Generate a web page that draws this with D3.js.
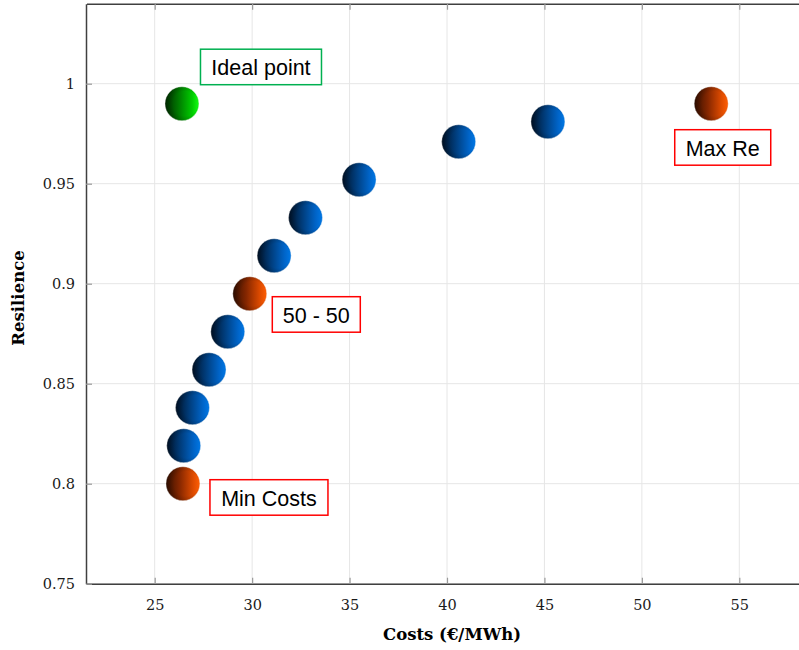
<!DOCTYPE html>
<html>
<head>
<meta charset="utf-8">
<script src="https://cdn.jsdelivr.net/npm/d3@7"></script>
<style>
  body { margin: 0; background: #fff; }
</style>
</head>
<body>
<script>
// data
var costs      = [26.4, 26.45, 26.49, 26.94, 27.79, 28.75, 29.88, 31.13, 32.74, 35.49, 40.6, 45.18, 53.56];
var resilience = [0.990, 0.800, 0.819, 0.838, 0.857, 0.876, 0.895, 0.914, 0.933, 0.952, 0.971, 0.981, 0.990];
var kinds      = ["ideal", "pick", "front", "front", "front", "front", "pick", "front", "front", "front", "front", "front", "pick"];
var xTicks = [25, 30, 35, 40, 45, 50, 55];
var yTicks = [0.75, 0.8, 0.85, 0.9, 0.95, 1];
var labelText  = ["Ideal point", "Min Costs", "50 - 50", "Max Re"];
var labelPoint = [0, 1, 6, 12];

// layout for the annotation boxes (pixel offsets from the point)
var labelLayout = [
  {dx: 79, dy: -36.5, w: 121, stroke: "#00b050"},
  {dx: 86, dy: 14, w: 118, stroke: "#ff0000"},
  {dx: 66.5, dy: 21, w: 88, stroke: "#ff0000"},
  {dx: 11.5, dy: 44, w: 96, stroke: "#ff0000"}
];

function drawChart() {
  var W = 799, H = 650;
  var plotLeft = 86, plotTop = 3.7, plotBottom = 583.7;

  var points = costs.map(function (c, i) { return {x: c, y: resilience[i], kind: kinds[i]}; });

  var x = d3.scaleLinear().domain([21.5, 58.5]).range([plotLeft + 0.5, 807.5]);
  var y = d3.scaleLinear().domain([0.75, 1.04]).range([plotBottom, plotTop]);

  var svg = d3.select("body").append("svg")
    .attr("width", W)
    .attr("height", H);

  var defs = svg.append("defs");
  var shades = {
    front: ["#00132a", "#003c7a", "#0064c8", "#0078e6"],
    pick:  ["#381000", "#862700", "#de4b00", "#ff5f05"],
    ideal: ["#003000", "#007a00", "#00cc00", "#12ff12"]
  };
  Object.keys(shades).forEach(function (k) {
    var g = defs.append("linearGradient").attr("id", "ball-" + k)
      .attr("x1", "0%").attr("x2", "100%").attr("y1", "0%").attr("y2", "0%");
    [0, 0.4, 0.8, 1].forEach(function (o, i) {
      g.append("stop").attr("offset", o).attr("stop-color", shades[k][i]);
    });
  });
  var rg = defs.append("radialGradient").attr("id", "shade")
    .attr("cx", "0.6").attr("cy", "0.5").attr("r", "0.6");
  rg.append("stop").attr("offset", 0.6).attr("stop-color", "#000").attr("stop-opacity", 0);
  rg.append("stop").attr("offset", 1).attr("stop-color", "#000").attr("stop-opacity", 0.25);

  // grid
  svg.append("g").selectAll("line").data(xTicks).enter().append("line")
    .attr("x1", function (d) { return x(d); }).attr("x2", function (d) { return x(d); })
    .attr("y1", plotTop).attr("y2", plotBottom)
    .attr("stroke", "#e6e6e6").attr("stroke-width", 1);
  svg.append("g").selectAll("line").data(yTicks).enter().append("line")
    .attr("x1", plotLeft).attr("x2", W)
    .attr("y1", function (d) { return y(d); }).attr("y2", function (d) { return y(d); })
    .attr("stroke", "#e6e6e6").attr("stroke-width", 1);

  // axes
  var xAxis = svg.append("g").attr("transform", "translate(0," + plotBottom + ")")
    .call(d3.axisBottom(x).tickValues(xTicks).tickSizeInner(-6).tickSizeOuter(0).tickPadding(14));
  var xTop = svg.append("g").attr("transform", "translate(0," + plotTop + ")")
    .call(d3.axisTop(x).tickValues(xTicks).tickSizeInner(-6).tickSizeOuter(0).tickFormat(""));
  var yAxis = svg.append("g").attr("transform", "translate(" + plotLeft + ",0)")
    .call(d3.axisLeft(y).tickValues(yTicks).tickSizeInner(-6).tickSizeOuter(0).tickPadding(10)
      .tickFormat(function (d) { return String(+d.toFixed(2)); }));

  [xAxis, xTop, yAxis].forEach(function (a) {
    a.select(".domain").attr("stroke", "#404040").attr("stroke-width", 1.5);
    a.selectAll(".tick line").attr("stroke", "#9a9a9a").attr("stroke-width", 1.2);
    a.selectAll(".tick text")
      .attr("font-family", "'DejaVu Serif', serif")
      .attr("font-size", "14.5px")
      .attr("fill", "#1a1a1a");
  });
  xAxis.selectAll(".tick text").attr("dy", "0.85em");
  yAxis.selectAll(".tick text").attr("dx", "-1");

  // titles
  svg.append("text")
    .attr("x", 452).attr("y", 640)
    .attr("text-anchor", "middle")
    .attr("font-family", "'DejaVu Serif', serif")
    .attr("font-weight", "bold")
    .attr("font-size", "16.5px")
    .text("Costs (\u20ac/MWh)");
  svg.append("text")
    .attr("transform", "translate(24," + 298 + ") rotate(-90)")
    .attr("text-anchor", "middle")
    .attr("font-family", "'DejaVu Serif', serif")
    .attr("font-weight", "bold")
    .attr("font-size", "16.5px")
    .text("Resilience");

  // balls
  var balls = svg.append("g").selectAll("g").data(points).enter().append("g")
    .attr("transform", function (d) { return "translate(" + x(d.x) + "," + y(d.y) + ")"; });
  balls.append("circle").attr("r", 17)
    .attr("fill", function (d) { return "url(#ball-" + d.kind + ")"; })
    .attr("stroke", "#ffffff").attr("stroke-opacity", 0.6).attr("stroke-width", 0.8);
  balls.append("circle").attr("r", 17).attr("fill", "url(#shade)");

  // annotation boxes
  var labels = labelText.map(function (t, i) {
    var p = points[labelPoint[i]];
    return {text: t, cx: x(p.x) + labelLayout[i].dx, cy: y(p.y) + labelLayout[i].dy,
            w: labelLayout[i].w, stroke: labelLayout[i].stroke};
  });
  var lab = svg.append("g").selectAll("g").data(labels).enter().append("g")
    .attr("transform", function (d) { return "translate(" + d.cx + "," + d.cy + ")"; });
  lab.append("rect")
    .attr("x", function (d) { return -d.w / 2; }).attr("y", -18)
    .attr("width", function (d) { return d.w; }).attr("height", 35.5)
    .attr("fill", "#fff")
    .attr("stroke", function (d) { return d.stroke; }).attr("stroke-width", 1.5);
  lab.append("text")
    .attr("text-anchor", "middle")
    .attr("y", 8)
    .attr("font-family", "'Liberation Sans', Arial, sans-serif")
    .attr("font-size", "21.5px")
    .attr("fill", "#000")
    .text(function (d) { return d.text; });
}

drawChart();
</script>
</body>
</html>
